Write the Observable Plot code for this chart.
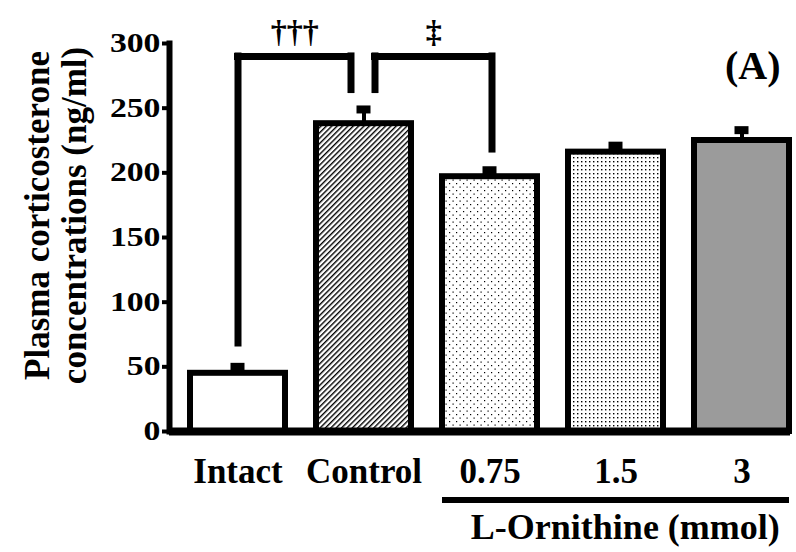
<!DOCTYPE html>
<html><head><meta charset="utf-8">
<script src="https://cdn.jsdelivr.net/npm/d3@7"></script>
<script src="https://cdn.jsdelivr.net/npm/@observablehq/plot@0.6"></script>
<style>
body{margin:0;background:#fff;}
#chart svg{display:block;}
</style></head><body><div id="chart"></div>
<script>
// ---- data ----
const categories = ["Intact", "Control", "0.75", "1.5", "3"];
const means = [45, 238, 197, 216, 225];
const sems = [5, 11, 5, 5, 8];
const yTicks = [0, 50, 100, 150, 200, 250, 300];
const yTitle = ["Plasma corticosterone", "concentrations (ng/ml)"];
const bracketFrom = ["Intact", "Control"];
const bracketTo = ["Control", "0.75"];
const bracketTop = [290, 290];
const bracketLeftEnd = [68, 264];
const bracketRightEnd = [264, 218];
const bracketSymbols = ["†††", "‡"];
const bracketSymbolY = [309, 309];
const groupLabel = "L-Ornithine (mmol)";
const groupFrom = "0.75";
const groupTo = "3";
const groupLineY = -53;
const groupLabelY = -74;
const panelLabel = "(A)";

// ---- styling ----
const patternFor = {"Intact": "white", "Control": "url(#hatch)", "0.75": "url(#dots1)", "1.5": "url(#dots2)", "3": "url(#dots3)"};
const legOffsets = [[0, -13], [11, 2]];
const xRange = [158, 821];
const xPadding = 0.248;
const serif = "'Liberation Serif','Times New Roman',Times,serif";

const band = d3.scaleBand(categories, xRange).padding(xPadding);
const bw = band.bandwidth();
const center = c => band(c) + bw / 2;

const bars = categories.map((c, i) => ({cat: c, mean: means[i], sem: sems[i]}));
const brackets = bracketFrom.map((f, i) => ({
  from: f, to: bracketTo[i], top: bracketTop[i], leftEnd: bracketLeftEnd[i],
  rightEnd: bracketRightEnd[i], sym: bracketSymbols[i], symY: bracketSymbolY[i]
}));
const group = [{from: groupFrom, to: groupTo, y: groupLineY, ly: groupLabelY, label: groupLabel}];

const marks = [];
for (const c of categories) {
  marks.push(Plot.barY(bars.filter(d => d.cat === c), {x: "cat", y: "mean", fill: patternFor[c], stroke: "black", strokeWidth: 6}));
}
marks.push(Plot.ruleX(bars, {x: "cat", y1: "mean", y2: d => d.mean + d.sem, stroke: "black", strokeWidth: 4}));
marks.push(Plot.tickY(bars, {x: "cat", y: d => d.mean + d.sem, stroke: "black", strokeWidth: 8, inset: (bw - 14) / 2}));

brackets.forEach((b, i) => {
  const [oL, oR] = legOffsets[i];
  const common = {stroke: "black", strokeWidth: 7, strokeLinecap: "square"};
  marks.push(Plot.ruleX([b], {x: "from", y1: "leftEnd", y2: "top", dx: oL, ...common}));
  marks.push(Plot.ruleX([b], {x: "to", y1: "rightEnd", y2: "top", dx: oR, ...common}));
  marks.push(Plot.ruleY([b], {x1: "from", x2: "to", y: "top", insetLeft: bw / 2 + oL, insetRight: bw / 2 - oR, ...common}));
  marks.push(Plot.text([b], {x: "from", y: "symY", text: "sym", dx: (center(b.to) - center(b.from) + oL + oR) / 2, fontSize: 32, fontWeight: "bold", fill: "black"}));
});

marks.push(Plot.ruleY(group, {x1: "from", x2: "to", y: "y", stroke: "black", strokeWidth: 6}));
marks.push(Plot.text(group, {x: "from", y: "ly", text: "label", dx: (center(groupTo) - center(groupFrom)) / 2 + 9, fontSize: 36, fontWeight: "bold", fill: "black"}));

marks.push(Plot.ruleY([0], {stroke: "black", strokeWidth: 8}));
marks.push(Plot.frame({anchor: "left", stroke: "black", strokeWidth: 6}));
marks.push(Plot.axisY(yTicks, {tickSize: 7, tickPadding: 2, strokeWidth: 4, fontSize: 27, label: null}));
marks.push(Plot.axisX({tickSize: 0, tickPadding: 27, fontSize: 35, label: null}));
marks.push(Plot.text([yTitle.join("\n")], {text: d => d, frameAnchor: "left", textAnchor: "middle", rotate: -90, dx: -114, dy: -22, fontSize: 35, lineHeight: 1.075, fill: "black", ariaLabel: "ytitle"}));
marks.push(Plot.text([panelLabel], {text: d => d, frameAnchor: "top-right", dx: -10, dy: 7, fontSize: 40, fill: "black"}));

const plot = Plot.plot({
  width: 796,
  height: 552,
  marginLeft: 169,
  marginRight: 6,
  marginTop: 43,
  marginBottom: 121,
  style: {fontFamily: serif, fontWeight: "bold", color: "black", background: "white"},
  x: {type: "band", domain: categories, range: xRange, padding: xPadding},
  y: {domain: [0, 300]},
  marks
});

const svg = plot.tagName.toLowerCase() === "svg" ? plot : plot.querySelector("svg");
const defs = d3.select(svg).insert("defs", ":first-child");
// diagonal hatch
const h = defs.append("pattern").attr("id", "hatch").attr("patternUnits", "userSpaceOnUse")
  .attr("width", 3.8).attr("height", 3.8).attr("patternTransform", "rotate(45)");
h.append("rect").attr("width", 3.8).attr("height", 3.8).attr("fill", "white");
h.append("rect").attr("x", 0).attr("y", 0).attr("width", 1.4).attr("height", 3.8).attr("fill", "black");
// sparse dots
const p1 = defs.append("pattern").attr("id", "dots1").attr("patternUnits", "userSpaceOnUse").attr("width", 7).attr("height", 7);
p1.append("rect").attr("width", 7).attr("height", 7).attr("fill", "white");
p1.append("rect").attr("x", 1).attr("y", 1).attr("width", 1.2).attr("height", 1.2).attr("fill", "black");
p1.append("rect").attr("x", 4.5).attr("y", 4.5).attr("width", 1.2).attr("height", 1.2).attr("fill", "black");
// medium dots
const p2 = defs.append("pattern").attr("id", "dots2").attr("patternUnits", "userSpaceOnUse").attr("width", 4).attr("height", 4);
p2.append("rect").attr("width", 4).attr("height", 4).attr("fill", "white");
p2.append("rect").attr("x", 1).attr("y", 1).attr("width", 1.4).attr("height", 1.4).attr("fill", "black");
// dense dots
const p3 = defs.append("pattern").attr("id", "dots3").attr("patternUnits", "userSpaceOnUse").attr("width", 2).attr("height", 2);
p3.append("rect").attr("width", 2).attr("height", 2).attr("fill", "white");
p3.append("rect").attr("x", 0.35).attr("y", 0.35).attr("width", 1.3).attr("height", 1.3).attr("fill", "#111");

function stretch(label, sx, sy) {
  svg.querySelectorAll(`g[aria-label="${label}"] text`).forEach(t => {
    const tr = t.getAttribute("transform") || "";
    t.setAttribute("transform", `${tr} scale(${sx},${sy})`);
  });
}
stretch("y-axis tick label", 1.25, 1);
stretch("ytitle", 1, 1.17);

document.getElementById("chart").appendChild(plot);
</script>
</body></html>
